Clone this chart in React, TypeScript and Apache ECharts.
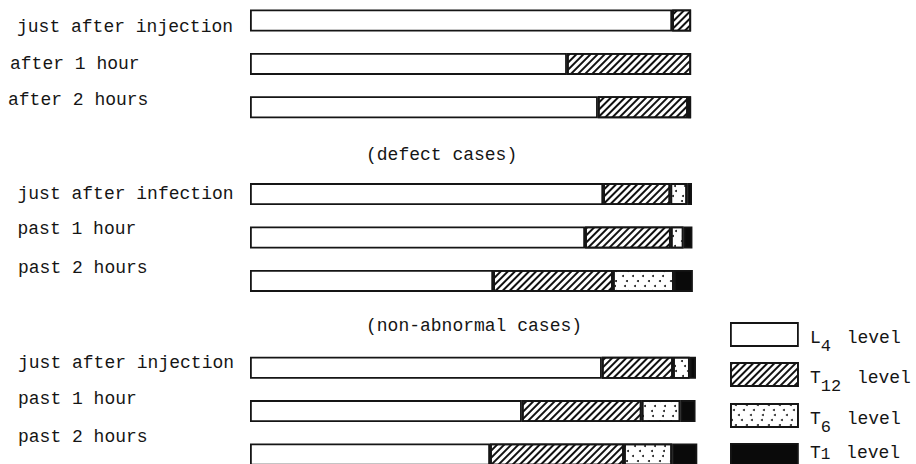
import React, { useEffect, useRef } from 'react';
import * as echarts from 'echarts';

// ---- data ----
const rowIds = ['r0', 'r1', 'r2', 'r3', 'r4', 'r5', 'r6', 'r7', 'r8', 'r9', 'r10'];
const rowLabels = [
  'just after injection',
  'after 1 hour',
  'after 2 hours',
  '',
  'just after infection',
  'past 1 hour',
  'past 2 hours',
  '',
  'just after injection',
  'past 1 hour',
  'past 2 hours',
];
const groupTitleRows = [3, 7];
const groupTitles = ['(defect cases)', '(non-abnormal cases)'];
const levelNames = ['L4 level', 'T12 level', 'T6 level', 'T1 level'];

const l4Values = [95.5, 71.7, 78.7, null, 79.9, 75.8, 55.0, null, 79.6, 61.5, 54.3];
const t12Values = [4.3, 28.1, 20.4, null, 15.2, 19.4, 27.1, null, 16.1, 27.1, 30.3];
const t6Values = [null, null, 0.7, null, 3.8, 2.9, 13.8, null, 3.8, 8.8, 10.9];
const t1Values = [null, null, null, null, 1.1, 2.0, 4.3, null, 1.4, 3.4, 5.7];

// ---- layout (label nudges, px) ----
const labelUp = [-6, -0.5, 7, 0, -0.2, 8.2, 13.3, 0, 5, 11.8, 17.9];
const labelPadLeft = [9, 2, 0, 0, 9.5, 9.5, 10, 0, 10, 10, 10];
const titleDown = [4.5, 1.5];
const legendTops = [314, 354, 395, 443];
// vertical padding [top, bottom] of main text and subscript per legend entry
const legendMainPad = [[6, 0], [6, 0], [6, 0], [0, 5.2]];
const legendSubPad = [[24, 0], [24, 0], [24, 0], [0, 1]];
const legendSubSize = [17, 17, 17, 16];

const FONT = '"Liberation Mono", "DejaVu Sans Mono", monospace';
const INK = '#151515';

export default function App() {
  const ref = useRef<HTMLDivElement>(null);
  useEffect(() => {
    if (!ref.current) return;
    const chart = echarts.init(ref.current, null, { renderer: 'svg' });

    const shiftPad = (up: number, left: number) =>
      up >= 0 ? [0, 0, up * 2, left] : [-up * 2, 0, 0, left];

    const labelRich: any = {};
    rowIds.forEach((_, i) => {
      labelRich['r' + i] = {
        fontFamily: FONT,
        fontSize: 18,
        color: INK,
        padding: shiftPad(labelUp[i], labelPadLeft[i]),
      };
    });
    const titleRich: any = {};
    groupTitles.forEach((_, k) => {
      titleRich['h' + k] = {
        fontFamily: FONT,
        fontSize: 18,
        color: INK,
        padding: [titleDown[k] * 2, 0, 0, 0],
      };
    });

    const border = { borderColor: INK, borderWidth: 1.8 };
    const hatch = {
      symbol: 'rect',
      symbolSize: 1,
      color: '#111',
      dashArrayX: [1, 0],
      dashArrayY: [1.6, 2.6],
      rotation: -Math.PI / 4,
    };
    const dots = {
      symbol: 'circle',
      symbolSize: 1,
      color: '#1a1a1a',
      dashArrayX: [[1.6, 7.4], [0, 4, 2, 5], [0, 2, 1.5, 6], [0, 6.5, 2, 2.5]],
      dashArrayY: [1.8, 2.2],
      rotation: 0,
    };

    const mk = (name: string, data: any[], itemStyle: any) => ({
      name,
      type: 'bar',
      stack: 'lvl',
      data,
      barWidth: 22,
      clip: false,
      itemStyle: { ...border, ...itemStyle },
      emphasis: { disabled: true },
    });

    const sub = (name: string) => {
      const m = name.match(/^([A-Z])(\d+)(.*)$/);
      if (!m) return name;
      return `{a|${m[1]}}{s|${m[2]}}{b|${m[3]}}`;
    };

    const legends = levelNames.map((nm, i) => {
      const mp = legendMainPad[i];
      const sp = legendSubPad[i];
      const rich = {
        a: { fontFamily: FONT, fontSize: 18, color: INK, lineHeight: 23, padding: [mp[0], 0, mp[1], 7] },
        s: { fontFamily: FONT, fontSize: legendSubSize[i], color: INK, lineHeight: 23, padding: [sp[0], 0, sp[1], 0] },
        b: { fontFamily: FONT, fontSize: 18, color: INK, lineHeight: 23, padding: [mp[0], 0, mp[1], 5] },
      };
      return {
        orient: 'vertical',
        left: 730,
        top: legendTops[i],
        padding: 0,
        icon: 'rect',
        itemWidth: 67,
        itemHeight: 23,
        selectedMode: false,
        data: [nm],
        itemStyle: { borderColor: INK, borderWidth: 1.8 },
        formatter: sub,
        textStyle: { fontFamily: FONT, fontSize: 18, color: INK, lineHeight: 23, rich },
      };
    });

    chart.setOption({
      animation: false,
      backgroundColor: '#fff',
      grid: {
        left: 250,
        top: -1.2,
        width: 450.84,
        height: 477.4,
        containLabel: false,
        outerBoundsMode: 'none',
      },
      xAxis: { type: 'value', min: 0, max: 102, show: false },
      yAxis: [
        {
          type: 'category',
          data: rowIds,
          inverse: true,
          axisLine: { show: false },
          axisTick: { show: false },
          splitLine: { show: false },
          axisLabel: {
            interval: 0,
            align: 'left',
            margin: 242,
            formatter: (_v: string, i: number) => (rowLabels[i] ? `{r${i}|${rowLabels[i]}}` : ''),
            rich: labelRich,
          },
        },
        {
          type: 'category',
          data: rowIds,
          inverse: true,
          position: 'left',
          axisLine: { show: false },
          axisTick: { show: false },
          splitLine: { show: false },
          axisLabel: {
            interval: 0,
            inside: true,
            align: 'left',
            margin: 116,
            formatter: (_v: string, i: number) => {
              const k = groupTitleRows.indexOf(i);
              return k >= 0 ? `{h${k}|${groupTitles[k]}}` : '';
            },
            rich: titleRich,
          },
        },
      ],
      legend: legends,
      series: [
        mk(levelNames[0], l4Values, { color: '#fff' }),
        mk(levelNames[1], t12Values, { color: '#fff', decal: hatch }),
        mk(levelNames[2], t6Values, { color: '#fff', decal: dots }),
        mk(levelNames[3], t1Values, { color: '#0a0a0a' }),
      ],
    });
    return () => chart.dispose();
  }, []);
  return (
    <div
      ref={ref}
      style={{ position: 'absolute', left: 0, top: 0, width: 916, height: 464, background: '#fff' }}
    />
  );
}
